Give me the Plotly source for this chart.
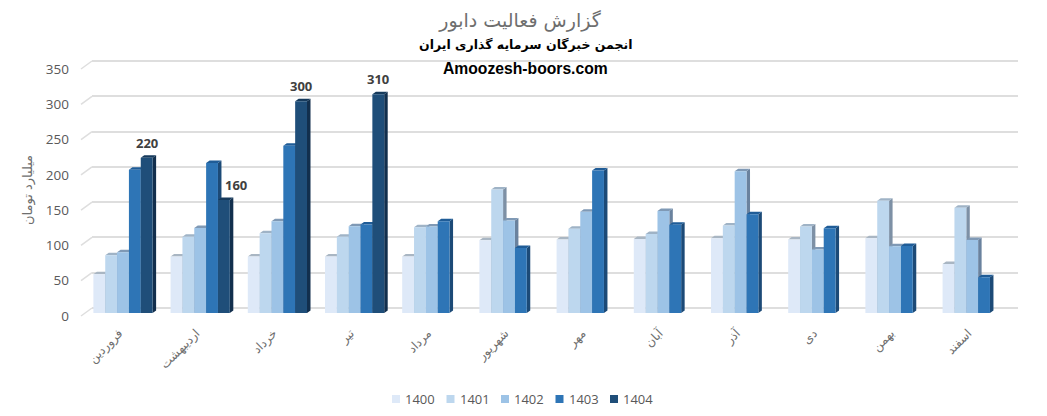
import plotly.graph_objects as go

W, H = 1047, 416
PAD = 8  # page margin the browser puts round the plot
FW, FH = W - PAD, H - PAD

months = ["فروردین", "اردیبهشت", "خرداد", "تیر", "مرداد", "شهریور", "مهر", "آبان", "آذر", "دی", "بهمن", "اسفند"]
years = ["1400", "1401", "1402", "1403", "1404"]
v1400 = [55, 80, 80, 80, 80, 103, 104, 105, 106, 104, 106, 69.5]
v1401 = [82, 108, 113, 108, 121.5, 175, 119.5, 112, 124, 122.5, 159, 149]
v1402 = [86, 120.5, 130, 123, 122.5, 131, 143.5, 144.5, 201, 90, 94.5, 103.5]
v1403 = [203, 212.5, 237, 125.5, 130, 92, 202, 125, 140, 120, 95, 50.5]
v1404 = [220, 160, 300, 310, None, None, None, None, None, None, None, None]
series = [v1400, v1401, v1402, v1403, v1404]
yticks = [0, 50, 100, 150, 200, 250, 300, 350]

front = ["#DEE9F8", "#BDD7EE", "#9DC3E6", "#2E75B6", "#1F4E79"]
top = ["#A9B6C3", "#9FB3C6", "#7F99B5", "#1F5C97", "#163A5C"]
side = ["#8F9DAD", "#7D90A5", "#6A829E", "#1C4A77", "#122F4D"]
GREY = "#595959"
ARGREY = "#6E6E6E"
GRID = "#DEDEDE"
AR = "DejaVu Sans"
NUM = "Open Sans, DejaVu Sans"


def fx(px):
    return (px - PAD) / FW


def fy(py):
    return (FH - (py - PAD)) / FH


# plot planes in pixels of the photographed page
BACK = dict(l=92, r=1018, b=308, t=61)
BARS = dict(l=84.4, r=1010.8, b=313, t=66)
TICK = dict(b=316, t=69)
VMAX = 350
# the wall axis runs a little past both ends so that its end gridlines are kept
EDGE = 3
wall_px = (BACK["b"] - BACK["t"]) / VMAX
wall_pad = EDGE / wall_px

GROUP = 0.767
n = len(series)
bw = GROUP / n
DX = 3.5 / ((BARS["r"] - BARS["l"]) / len(months))
DY = 2.5 / ((BARS["b"] - BARS["t"]) / VMAX)

fig = go.Figure()

# back wall: carries the gridlines
fig.add_trace(go.Scatter(x=[None], y=[None], xaxis="x", yaxis="y", showlegend=False, hoverinfo="skip"))

for s, vals in enumerate(series):
    fig.add_trace(go.Bar(
        x=list(range(len(months))), y=vals, name=years[s],
        xaxis="x2", yaxis="y2", marker=dict(color=front[s], line=dict(width=0)),
    ))

# front plane: carries the value labels
fig.add_trace(go.Scatter(x=[None], y=[None], xaxis="x2", yaxis="y3", showlegend=False, hoverinfo="skip"))

shapes = []
# slanted floor/wall ticks at left
for t in yticks:
    f = t / VMAX
    y_front = TICK["b"] + (TICK["t"] - TICK["b"]) * f
    y_back = BACK["b"] + (BACK["t"] - BACK["b"]) * f
    shapes.append(dict(type="line", xref="paper", yref="paper", layer="below",
                       x0=fx(81), y0=fy(y_front), x1=fx(BACK["l"]), y1=fy(y_back),
                       line=dict(color=GRID, width=1.5)))

# 3-D faces of each column, computed from the values
for s, vals in enumerate(series):
    for i, v in enumerate(vals):
        if v is None:
            continue
        xl = i - GROUP / 2 + s * bw
        xr = xl + bw
        shapes.append(dict(type="path", xref="x2", yref="y2", layer="below", line=dict(width=0),
                           fillcolor=side[s],
                           path=f"M {xr} 0 L {xr + DX} {DY} L {xr + DX} {v + DY} L {xr} {v} Z"))
        shapes.append(dict(type="path", xref="x2", yref="y2", layer="below", line=dict(width=0),
                           fillcolor=top[s],
                           path=f"M {xl} {v} L {xl + DX} {v + DY} L {xr + DX} {v + DY} L {xr} {v} Z"))

annotations = [
    dict(text="انجمن خبرگان سرمایه گذاری ایران", xref="paper", yref="paper", x=fx(525), y=fy(44),
         xanchor="center", yanchor="middle", showarrow=False,
         font=dict(family=AR, size=12.5, color="#000000", weight="bold")),
    dict(text="Amoozesh-boors.com", xref="paper", yref="paper", x=fx(525), y=fy(68),
         xanchor="center", yanchor="middle", showarrow=False,
         font=dict(family="Liberation Sans", size=15.7, color="#000000", weight="bold")),
]
label_shift = [0, 12, 0, 0]
for i, v in enumerate(v1404):
    if v is None:
        continue
    annotations.append(dict(text=str(v), xref="x2", yref="y2", x=i + GROUP / 2 - bw / 2, y=v,
                            xanchor="center", yanchor="middle",
                            showarrow=False, xshift=label_shift[i], yshift=15,
                            font=dict(family=NUM, size=13, color="#404040", weight="bold")))
annotations.append(dict(text="میلیارد تومان", xref="paper", yref="paper", x=fx(28), y=fy(190), textangle=-90,
                        xanchor="center", yanchor="middle",
                        showarrow=False, font=dict(family=AR, size=13, color=ARGREY)))

# legend key, set tight like the original
for s, name in enumerate(years):
    kx = 392 + s * 54.5
    shapes.append(dict(type="rect", xref="paper", yref="paper", line=dict(width=0), fillcolor=front[s],
                       x0=fx(kx), x1=fx(kx + 8), y0=fy(403), y1=fy(395)))
    annotations.append(dict(text=name, xref="paper", yref="paper", x=fx(kx + 11), y=fy(399),
                            xanchor="left", yanchor="middle",
                            showarrow=False, font=dict(family=NUM, size=13, color=GREY)))

fig.update_layout(
    width=FW, height=FH, autosize=False,
    margin=dict(l=0, r=0, t=0, b=0, autoexpand=False),
    paper_bgcolor="white", plot_bgcolor="rgba(0,0,0,0)",
    showlegend=False,
    barmode="group", bargap=1 - GROUP, bargroupgap=0,
    title=dict(text="گزارش فعالیت دابور", x=fx(520), y=fy(20), xanchor="center", yanchor="middle",
               font=dict(family=AR, size=19, color=ARGREY)),
    xaxis=dict(domain=[fx(BACK["l"]), fx(BACK["r"])], range=[0, 1], visible=False, anchor="y"),
    yaxis=dict(domain=[fy(BACK["b"] + EDGE), fy(BACK["t"] - EDGE)], range=[-wall_pad, VMAX + wall_pad], anchor="x",
               tickvals=yticks, showgrid=True, gridcolor=GRID, gridwidth=2, showticklabels=False,
               zeroline=False, showline=False, ticks=""),
    xaxis2=dict(domain=[fx(BARS["l"]), fx(BARS["r"])], range=[-0.5, 11.5], anchor="y2",
                tickvals=list(range(len(months))), ticktext=months, tickangle=-45,
                tickfont=dict(family=AR, size=12, color=ARGREY), showgrid=False, zeroline=False,
                showline=False, ticks="", ticklabelstandoff=10, ticklabelshift=-4),
    yaxis2=dict(domain=[fy(BARS["b"]), fy(BARS["t"])], range=[0, VMAX], anchor="x2",
                showgrid=False, zeroline=False, showticklabels=False, ticks=""),
    yaxis3=dict(domain=[fy(TICK["b"]), fy(TICK["t"])], range=[0, VMAX], anchor="free", position=fx(69),
                tickvals=yticks, showgrid=False, zeroline=False, showline=False, ticks="",
                tickfont=dict(family=NUM, size=13.5, color=GREY)),
    shapes=shapes, annotations=annotations,
)

fig.write_html("out.html")
